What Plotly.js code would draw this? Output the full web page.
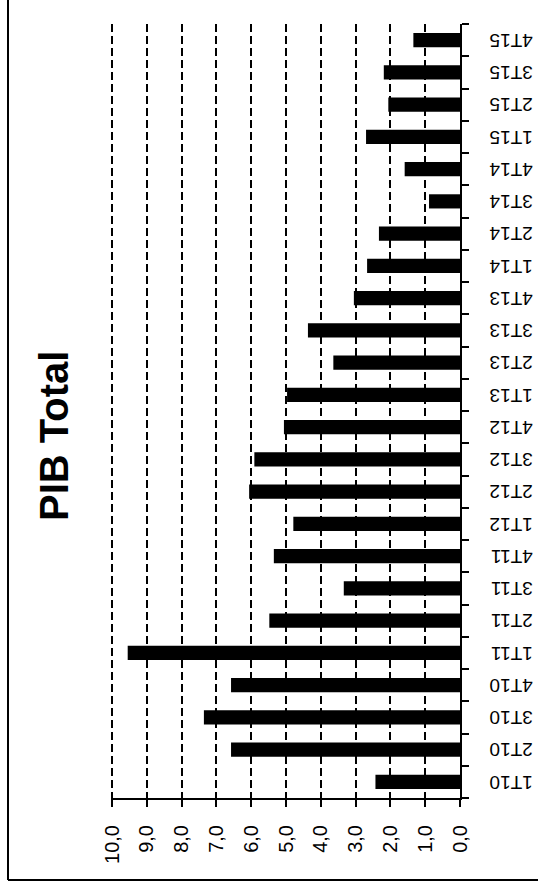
<!DOCTYPE html>
<html>
<head>
<meta charset="utf-8">
<script src="https://cdn.plot.ly/plotly-3.0.1.min.js"></script>
<style>
html,body{margin:0;padding:0;background:#fff;}
#chart{width:538px;height:887px;}
</style>
</head>
<body>
<div id="chart"></div>
<script>
const categories = ["1T10","2T10","3T10","4T10","1T11","2T11","3T11","4T11",
  "1T12","2T12","3T12","4T12","1T13","2T13","3T13","4T13",
  "1T14","2T14","3T14","4T14","1T15","2T15","3T15","4T15"];
const values = [2.43,6.58,7.36,6.58,9.55,5.48,3.34,5.35,
  4.79,6.06,5.91,5.06,4.97,3.64,4.37,3.05,
  2.67,2.33,0.89,1.59,2.70,2.06,2.19,1.34];
const valueTicks = [0,1,2,3,4,5,6,7,8,9,10];
const valueTickText = ["0,0","1,0","2,0","3,0","4,0","5,0","6,0","7,0","8,0","9,0","10,0"];
const titleText = "PIB Total";

const L = 111, R = 460, T = 24, B = 798, WIDTH = 538, HEIGHT = 887;
const px = v => (v - L) / (R - L);
const py = v => (B - v) / (B - T);

const trace = {
  type: 'bar',
  orientation: 'h',
  x: values,
  y: categories,
  marker: {color: '#000'},
  width: 0.44,
  hoverinfo: 'x+y'
};

const layout = {
  width: WIDTH, height: HEIGHT,
  margin: {l: L, r: WIDTH - R, t: T, b: HEIGHT - B, pad: 0},
  paper_bgcolor: '#fff', plot_bgcolor: '#fff',
  showlegend: false,
  font: {family: 'Liberation Sans, Arial, sans-serif', color: '#000'},
  xaxis: {
    range: [10.03, 0],
    tickvals: valueTicks,
    ticktext: valueTickText,
    tickangle: -90,
    tickfont: {size: 20, color: '#000'},
    ticks: 'outside', ticklen: 7, tickwidth: 2, tickcolor: '#000',
    showline: true, linecolor: '#000', linewidth: 2,
    showgrid: true, gridcolor: '#000', gridwidth: 2, griddash: '8px,4px',
    zeroline: false,
    ticklabelstandoff: 10,
    fixedrange: true
  },
  yaxis: {
    type: 'category',
    categoryorder: 'array', categoryarray: categories,
    side: 'right',
    tickangle: 180,
    tickfont: {size: 19, color: '#000'},
    ticks: 'outside', ticklen: 7, tickwidth: 2, tickcolor: '#000',
    tickson: 'boundaries',
    showline: true, linecolor: '#000', linewidth: 2,
    showgrid: false, zeroline: false,
    ticklabelstandoff: 67,
    ticklabelshift: 6,
    range: [-0.5, categories.length - 0.5],
    fixedrange: true
  },
  annotations: [{
    text: '<b>' + titleText + '</b>',
    xref: 'paper', yref: 'paper',
    x: px(54), y: py(436),
    xanchor: 'center', yanchor: 'middle',
    textangle: -90,
    showarrow: false,
    font: {size: 40, color: '#000', family: 'Liberation Sans, Arial, sans-serif'}
  }],
  shapes: [
    {type: 'line', xref: 'paper', yref: 'paper', x0: px(8), x1: px(8), y0: py(0), y1: py(880), line: {color: '#000', width: 2}},
    {type: 'line', xref: 'paper', yref: 'paper', x0: px(8), x1: px(538), y0: py(880), y1: py(880), line: {color: '#000', width: 2}}
  ]
};

Plotly.newPlot('chart', [trace], layout, {displayModeBar: false, staticPlot: true});
</script>
</body>
</html>
